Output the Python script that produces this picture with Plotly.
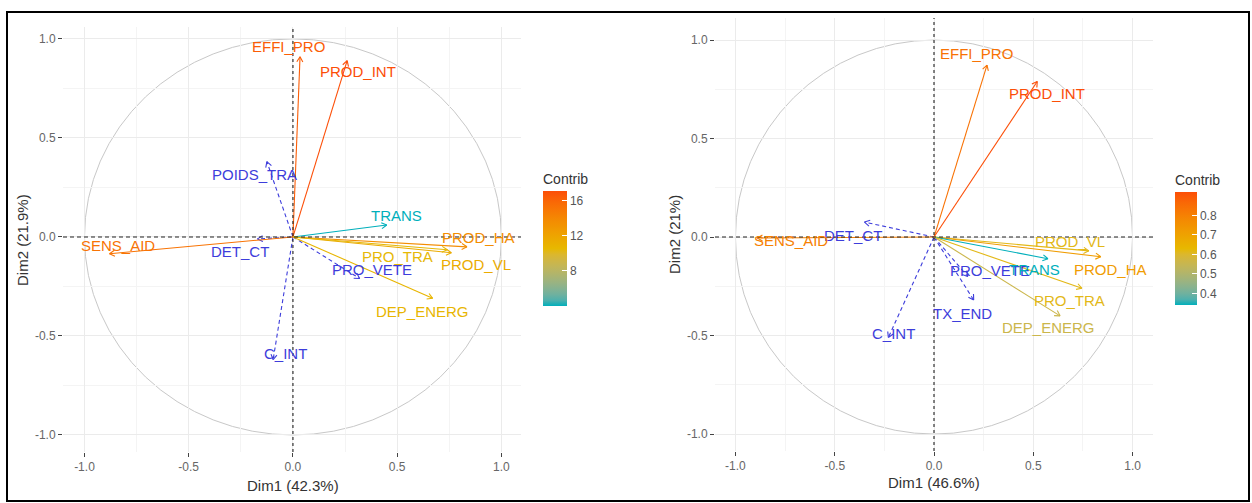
import numpy as np
import plotly.graph_objects as go

W, H = 1252, 503

# ---- Left PCA (Dim1 42.3 %, Dim2 21.9 %) ----
left_vars = ["EFFI_PRO", "PROD_INT", "TRANS", "PROD_HA", "PROD_VL", "PRO_TRA", "DEP_ENERG", "SENS_AID"]
left_dim1 = [0.034, 0.26, 0.45, 0.835, 0.76, 0.74, 0.67, -0.88]
left_dim2 = [0.91, 0.89, 0.06, -0.05, -0.08, -0.065, -0.31, -0.085]
left_contrib = [16.4, 17.1, 4.0, 13.6, 11.5, 10.5, 10.8, 15.2]
left_sup_vars = ["POIDS_TRA", "DET_CT", "PRO_VETE", "C_INT"]
left_sup_dim1 = [-0.125, -0.17, 0.32, -0.095]
left_sup_dim2 = [0.38, -0.01, -0.21, -0.62]

# ---- Right PCA (Dim1 46.6 %, Dim2 21 %) ----
right_vars = ["EFFI_PRO", "PROD_INT", "SENS_AID", "PROD_VL", "PROD_HA", "TRANS", "PRO_TRA", "DEP_ENERG"]
right_dim1 = [0.267, 0.52, -0.89, 0.78, 0.84, 0.574, 0.745, 0.635]
right_dim2 = [0.873, 0.79, -0.005, -0.07, -0.10, -0.11, -0.26, -0.40]
right_contrib = [0.84, 0.92, 0.80, 0.62, 0.72, 0.34, 0.62, 0.56]
right_sup_vars = ["DET_CT", "PRO_VETE", "TX_END", "C_INT"]
right_sup_dim1 = [-0.35, 0.17, 0.20, -0.23]
right_sup_dim2 = [0.076, -0.20, -0.32, -0.51]

axis_ticks = [-1.0, -0.5, 0.0, 0.5, 1.0]
left_colorbar_ticks = [8, 12, 16]
right_colorbar_ticks = [0.4, 0.5, 0.6, 0.7, 0.8]

FONT = "Liberation Sans, Arial, sans-serif"
SUP_COLOR = "#3D3DDB"
ANCHORS = ["#00AFBB", "#E7B800", "#FC4E07"]

# label placement (pixel shift from arrow tip: right, down)
left_label_shift = {
    "EFFI_PRO": (-12, -10), "PROD_INT": (11, 11), "TRANS": (10, -10), "PROD_HA": (11, -9),
    "PROD_VL": (25, 12), "PRO_TRA": (-50, 7), "DEP_ENERG": (-10, 13), "SENS_AID": (9, -8),
    "POIDS_TRA": (-12, 13), "DET_CT": (-18, 13), "PRO_VETE": (12, -9), "C_INT": (12, -6),
}
right_label_shift = {
    "EFFI_PRO": (-11, -12), "PROD_INT": (10, 12), "SENS_AID": (34, 2), "PROD_VL": (-19, -9),
    "PROD_HA": (10, 13), "TRANS": (-13, 11), "PRO_TRA": (-12, 12), "DEP_ENERG": (-12, 12),
    "DET_CT": (-12, 13), "PRO_VETE": (22, -6), "TX_END": (-11, 13), "C_INT": (5, -4),
}

panels = [
    dict(name="", box=(63, 27, 521, 452), xr=(-1.103, 1.094), yr=(-1.086, 1.06),
         vars=left_vars, d1=left_dim1, d2=left_dim2, c=left_contrib,
         svars=left_sup_vars, s1=left_sup_dim1, s2=left_sup_dim2, shift=left_label_shift,
         xtitle="Dim1 (42.3%)", ytitle="Dim2 (21.9%)", xt_pos=(293, 485), yt_pos=(22, 240),
         cb=dict(x=543, top=170, bottom=306, thick=24, ticks=left_colorbar_ticks, fmt="")),
    dict(name="2", box=(715, 18, 1153, 451), xr=(-1.103, 1.103), yr=(-1.086, 1.112),
         vars=right_vars, d1=right_dim1, d2=right_dim2, c=right_contrib,
         svars=right_sup_vars, s1=right_sup_dim1, s2=right_sup_dim2, shift=right_label_shift,
         xtitle="Dim1 (46.6%)", ytitle="Dim2 (21%)", xt_pos=(934, 482), yt_pos=(674, 235),
         cb=dict(x=1175, top=171, bottom=305, thick=22, ticks=right_colorbar_ticks, fmt=".1f")),
]


# ---- colour gradient interpolated in CIE Lab ----
def hex_rgb(h):
    h = h.lstrip("#")
    return np.array([int(h[i:i + 2], 16) for i in (0, 2, 4)], dtype=float) / 255.0


M = np.array([[0.4124, 0.3576, 0.1805], [0.2126, 0.7152, 0.0722], [0.0193, 0.1192, 0.9505]])
WHITE = np.array([0.95047, 1.0, 1.08883])


def rgb_to_lab(rgb):
    lin = np.where(rgb <= 0.04045, rgb / 12.92, ((rgb + 0.055) / 1.055) ** 2.4)
    xyz = M @ lin / WHITE
    f = np.where(xyz > 0.008856, np.cbrt(xyz), 7.787 * xyz + 16 / 116)
    return np.array([116 * f[1] - 16, 500 * (f[0] - f[1]), 200 * (f[1] - f[2])])


def lab_to_rgb(lab):
    fy = (lab[0] + 16) / 116
    fx = fy + lab[1] / 500
    fz = fy - lab[2] / 200
    f = np.array([fx, fy, fz])
    xyz = np.where(f ** 3 > 0.008856, f ** 3, (f - 16 / 116) / 7.787) * WHITE
    lin = np.linalg.solve(M, xyz)
    lin = np.clip(lin, 0, 1)
    rgb = np.where(lin <= 0.0031308, 12.92 * lin, 1.055 * lin ** (1 / 2.4) - 0.055)
    return np.clip(rgb, 0, 1)


LABS = [rgb_to_lab(hex_rgb(c)) for c in ANCHORS]


def gradient(t):
    t = min(max(t, 0.0), 1.0)
    seg = 0 if t <= 0.5 else 1
    f = (t - 0.5 * seg) / 0.5
    lab = LABS[seg] * (1 - f) + LABS[seg + 1] * f
    rgb = lab_to_rgb(lab)
    return "rgb(%d,%d,%d)" % tuple(np.round(rgb * 255))


SCALE = [[s, gradient(s)] for s in np.linspace(0, 1, 21)]


def scale_color(v, vmin, vmax):
    return gradient((v - vmin) / (vmax - vmin) if vmax > vmin else 0.0)


fig = go.Figure()
shapes, annotations = [], []


def px_x(p):
    return p / W


def px_y(p):
    return 1 - p / H


for p in panels:
    xa, ya = "x" + p["name"], "y" + p["name"]
    x0, y0, x1, y1 = p["box"]
    sx = (x1 - x0) / (p["xr"][1] - p["xr"][0])
    sy = (y1 - y0) / (p["yr"][1] - p["yr"][0])
    axis_common = dict(
        showgrid=True, gridcolor="#EBEBEB", gridwidth=1, zeroline=False,
        tickvals=axis_ticks, ticktext=["%.1f" % t for t in axis_ticks],
        ticks="outside", ticklen=4, tickwidth=1, tickcolor="#444",
        tickfont=dict(family=FONT, size=12, color="#666"),
        minor=dict(dtick=0.25, tick0=0.25, showgrid=True, gridcolor="#F4F4F4", gridwidth=0.6, ticks=""),
        showline=False, fixedrange=True,
    )
    fig.layout["xaxis" + p["name"]] = dict(axis_common, domain=[px_x(x0), px_x(x1)],
                                          range=list(p["xr"]), anchor=ya)
    fig.layout["yaxis" + p["name"]] = dict(axis_common, domain=[px_y(y1), px_y(y0)],
                                          range=list(p["yr"]), anchor=xa)

    # correlation circle
    shapes.append(dict(type="circle", xref=xa, yref=ya, x0=-1, x1=1, y0=-1, y1=1,
                       line=dict(color="#C8C8C8", width=1), layer="below"))
    # dashed reference axes
    shapes.append(dict(type="line", xref=xa + " domain", yref=ya, x0=0, x1=1, y0=0, y1=0,
                       line=dict(color="#222", width=1.1, dash="4px,3px")))
    shapes.append(dict(type="line", xref=xa, yref=ya + " domain", x0=0, x1=0, y0=0, y1=1,
                       line=dict(color="#222", width=1.1, dash="3px,3px")))

    vmin, vmax = min(p["c"]), max(p["c"])

    def draw_vector(name, vx, vy, color, dash):
        # shaft
        fig.add_trace(go.Scatter(x=[0, vx], y=[0, vy], mode="lines", xaxis=xa, yaxis=ya,
                                 line=dict(color=color, width=1.1, dash=dash),
                                 hoverinfo="skip", showlegend=False))
        # open head drawn in pixel space
        d = np.array([vx * sx, vy * sy])
        n = np.hypot(*d)
        if n > 0:
            u = d / n
            hx, hy = [], []
            for ang in (np.radians(30), -np.radians(30)):
                r = np.array([u[0] * np.cos(ang) - u[1] * np.sin(ang),
                              u[0] * np.sin(ang) + u[1] * np.cos(ang)])
                hx += [vx - 6 * r[0] / sx, vx, None]
                hy += [vy - 6 * r[1] / sy, vy, None]
            fig.add_trace(go.Scatter(x=hx, y=hy, mode="lines", xaxis=xa, yaxis=ya,
                                     line=dict(color=color, width=1.1),
                                     hoverinfo="skip", showlegend=False))
        dx, dy = p["shift"][name]
        annotations.append(dict(xref=xa, yref=ya, x=vx, y=vy, xshift=dx, yshift=-dy,
                                text=name, showarrow=False,
                                font=dict(family=FONT, size=15, color=color)))

    for name, vx, vy in zip(p["svars"], p["s1"], p["s2"]):
        draw_vector(name, vx, vy, SUP_COLOR, "4px,3px")
    for name, vx, vy, cv in zip(p["vars"], p["d1"], p["d2"], p["c"]):
        draw_vector(name, vx, vy, scale_color(cv, vmin, vmax), "solid")

    # colour key trace
    cb = p["cb"]
    fig.add_trace(go.Scatter(
        x=p["d1"], y=p["d2"], mode="markers", xaxis=xa, yaxis=ya, hoverinfo="skip",
        showlegend=False,
        marker=dict(size=1, opacity=0, color=p["c"], colorscale=SCALE, cmin=vmin, cmax=vmax,
                    showscale=True,
                    colorbar=dict(
                        x=px_x(cb["x"]), xanchor="left", xref="paper", xpad=0,
                        y=px_y(cb["top"]), yanchor="top", yref="paper", ypad=0,
                        len=cb["bottom"] - cb["top"], lenmode="pixels", thickness=cb["thick"],
                        thicknessmode="pixels", outlinewidth=0,
                        tickvals=cb["ticks"], tickformat=cb["fmt"],
                        ticks="inside", ticklen=5, tickcolor="white", tickwidth=1,
                        tickfont=dict(family=FONT, size=12, color="#555"),
                        title=dict(text="Contrib", side="top",
                                   font=dict(family=FONT, size=14, color="#333")),
                    ))))

    annotations.append(dict(xref="paper", yref="paper", x=px_x(p["xt_pos"][0]), y=px_y(p["xt_pos"][1]),
                            text=p["xtitle"], showarrow=False, xanchor="center", yanchor="middle",
                            font=dict(family=FONT, size=15, color="#333")))
    annotations.append(dict(xref="paper", yref="paper", x=px_x(p["yt_pos"][0]), y=px_y(p["yt_pos"][1]),
                            text=p["ytitle"], showarrow=False, textangle=-90,
                            xanchor="center", yanchor="middle",
                            font=dict(family=FONT, size=15, color="#333")))

# outer frame
shapes.append(dict(type="rect", xref="paper", yref="paper",
                   x0=px_x(7), x1=px_x(1249), y0=px_y(501), y1=px_y(12),
                   line=dict(color="black", width=2)))

fig.update_layout(
    width=W, height=H, margin=dict(l=0, r=0, t=0, b=0),
    paper_bgcolor="white", plot_bgcolor="white",
    shapes=shapes, annotations=annotations, showlegend=False,
)

fig.write_html("out.html")
